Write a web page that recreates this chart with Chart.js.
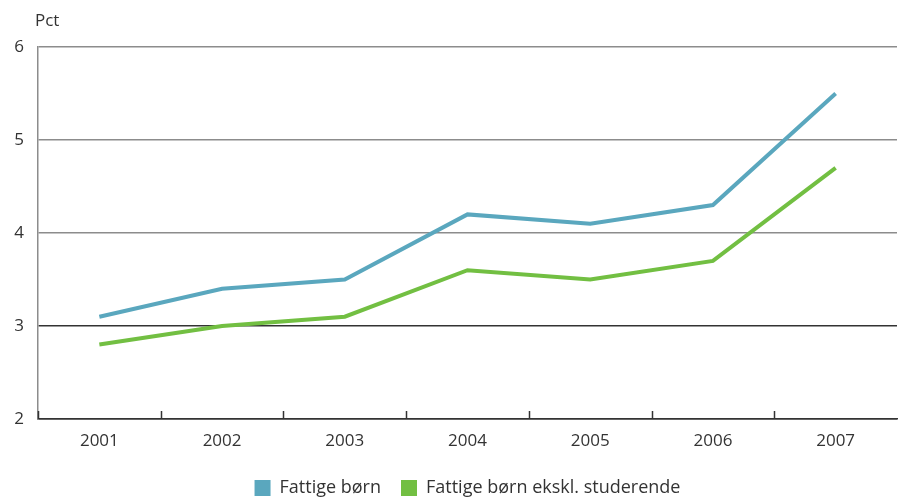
<!DOCTYPE html>
<html><head><meta charset="utf-8">
<script src="https://cdn.jsdelivr.net/npm/chart.js@4/dist/chart.umd.min.js"></script>
<style>html,body{margin:0;padding:0;background:#fff}#wrap{width:899px;height:499px}</style>
</head><body><div id="wrap"><canvas id="c" width="899" height="499"></canvas></div>
<script>
const years = ['2001','2002','2003','2004','2005','2006','2007'];
const fattigeBorn = [3.1, 3.4, 3.5, 4.2, 4.1, 4.3, 5.5];
const fattigeBornEkskl = [2.8, 3.0, 3.1, 3.6, 3.5, 3.7, 4.7];
const seriesNames = ['Fattige børn', 'Fattige børn ekskl. studerende'];
const yUnit = 'Pct';

const FONT = '"Open Sans", "DejaVu Sans", sans-serif';
const TXT = '#333333';

const extras = {
  id: 'extras',
  afterDraw(chart) {
    const ctx = chart.ctx;
    const x = chart.scales.x;
    const area = chart.chartArea;
    ctx.save();
    ctx.strokeStyle = '#333333';
    ctx.lineWidth = 1.5;
    for (let i = 0; i < years.length; i++) {
      const px = Math.round(x.getPixelForValue(i - 0.5)) + 0.5;
      ctx.beginPath();
      ctx.moveTo(px, area.bottom);
      ctx.lineTo(px, area.bottom - 8);
      ctx.stroke();
    }
    ctx.fillStyle = TXT;
    ctx.font = '17px ' + FONT;
    ctx.textBaseline = 'middle';
    ctx.textAlign = 'left';
    ctx.fillText(yUnit, 35, 21);
    ctx.restore();
  }
};

new Chart(document.getElementById('c'), {
  type: 'line',
  data: {
    labels: years,
    datasets: [
      { label: seriesNames[0], data: fattigeBorn, borderColor: '#5aa7be', backgroundColor: '#5aa7be', borderWidth: 4, pointRadius: 0, tension: 0, fill: false },
      { label: seriesNames[1], data: fattigeBornEkskl, borderColor: '#72bf42', backgroundColor: '#72bf42', borderWidth: 4, pointRadius: 0, tension: 0, fill: false }
    ]
  },
  options: {
    responsive: false,
    animation: false,
    devicePixelRatio: 1,
    layout: { padding: { left: 0, right: 2, top: 47, bottom: -8 } },
    plugins: {
      legend: {
        position: 'bottom',
        fullSize: false,
        labels: {
          boxWidth: 16, boxHeight: 16, padding: 20,
          color: TXT, font: { family: FONT, size: 18 },
          generateLabels(chart) {
            return chart.data.datasets.map((d, i) => ({
              text: d.label, fillStyle: d.borderColor, strokeStyle: d.borderColor, lineWidth: 0, datasetIndex: i, fontColor: TXT
            }));
          }
        }
      },
      tooltip: { enabled: false }
    },
    scales: {
      x: {
        offset: true,
        grid: { display: false, drawTicks: false },
        border: { display: true, color: '#333333', width: 1.5 },
        ticks: { color: TXT, font: { family: FONT, size: 17 }, padding: 12 },
        afterFit(s) { s.height = 40; }
      },
      y: {
        min: 2, max: 6,
        ticks: { stepSize: 1, color: TXT, font: { family: FONT, size: 17 }, padding: 14 },
        grid: {
          drawTicks: false,
          lineWidth: 1.5,
          color: (c) => (c.tick && (c.tick.value === 3 || c.tick.value === 2)) ? '#333333' : '#8c8c8c'
        },
        border: { display: true, color: '#8c8c8c', width: 1.5 },
        afterFit(s) { s.width = 38; }
      }
    }
  },
  plugins: [extras]
});
</script></body></html>
